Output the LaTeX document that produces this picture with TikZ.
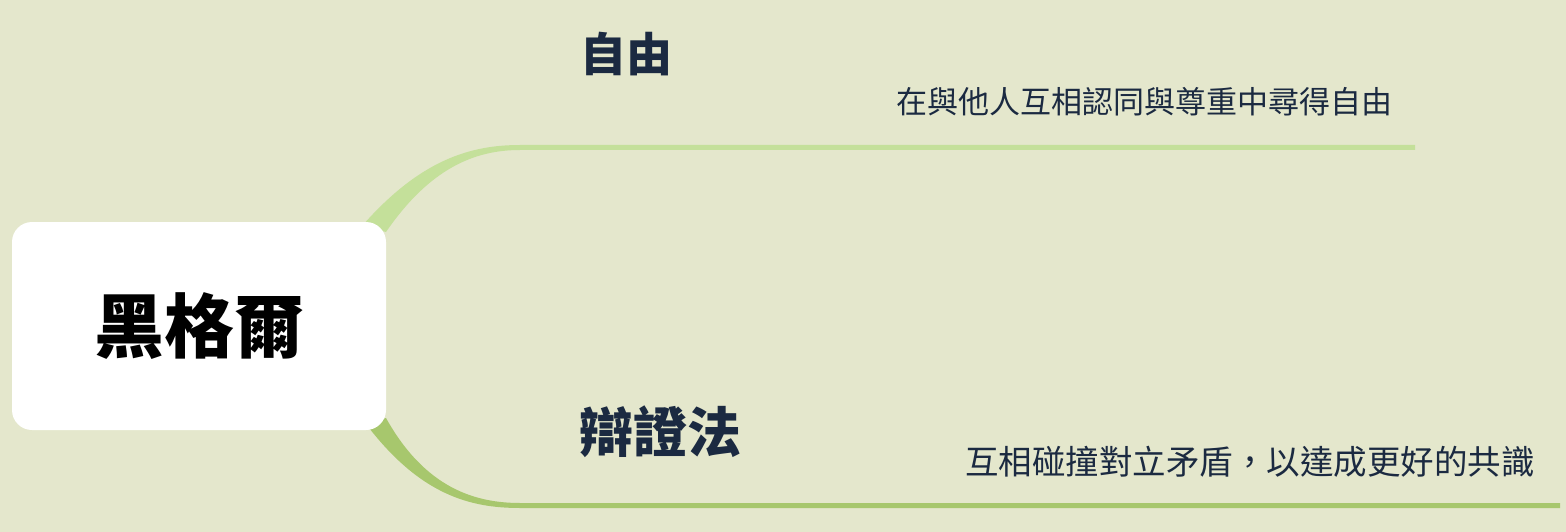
\documentclass[tikz,border=0pt]{standalone}
\usepackage{fontspec}
\newfontfamily\cjk{Noto Sans CJK TC}
\usetikzlibrary{positioning}
\definecolor{bg}{HTML}{E4E7CC}
\definecolor{branchup}{HTML}{C4E09A}
\definecolor{branchdown}{HTML}{A7C76D}
\definecolor{ink}{HTML}{1B2A41}
\tikzset{
  topic/.style={fill=white,rounded corners=20pt,minimum width=374pt,minimum height=208pt,inner sep=0pt},
  subtopic/.style={text=ink,inner sep=0pt,font=\cjk\bfseries\fontsize{50pt}{50pt}\selectfont},
  note/.style={text=ink,inner sep=0pt,font=\cjk\fontsize{31pt}{31pt}\selectfont}
}
\begin{document}
\begin{tikzpicture}[x=1pt,y=-1pt]
        %背景
        \fill [bg] (0,0) rectangle (1566,532);
        \useasboundingbox (0,0) rectangle (1566,532);
        %分支端点
        \coordinate (upend) at (1415,147.5);
        \coordinate (downend) at (1560,505.5);
        %上分支
        \fill [branchup] (362,226) .. controls (420,160) and (470,145) .. (520,145) -- (upend |- 0,145)
        -- (upend |- 0,150) -- (520,150) .. controls (475,150) and (430,168) .. (386,232) -- cycle;
        %下分支
        \fill [branchdown] (366,424) .. controls (420,495) and (470,508) .. (520,508) -- (downend |- 0,508)
        -- (downend |- 0,503) -- (520,503) .. controls (475,503) and (425,488) .. (386,418) -- cycle;
        %中心主题
        \node [topic] (hegel) at (199,326) {\cjk\bfseries\fontsize{70pt}{70pt}\selectfont\color{black}黑格爾};
        %子主题
        \node [subtopic,font=\cjk\bfseries\fontsize{46pt}{46pt}\selectfont] (freedom) at (626,54) {自由};
        \node [note] (freedomnote) at (1144,102) {在與他人互相認同與尊重中尋得自由};
        \node [subtopic,font=\cjk\bfseries\fontsize{54pt}{54pt}\selectfont] (dialectic) at (660,432) {辯證法};
        \node [note,font=\cjk\fontsize{33.5pt}{33.5pt}\selectfont] (dialecticnote) at (1250,462) {互相碰撞對立矛盾，以達成更好的共識};
\end{tikzpicture}
\end{document}
